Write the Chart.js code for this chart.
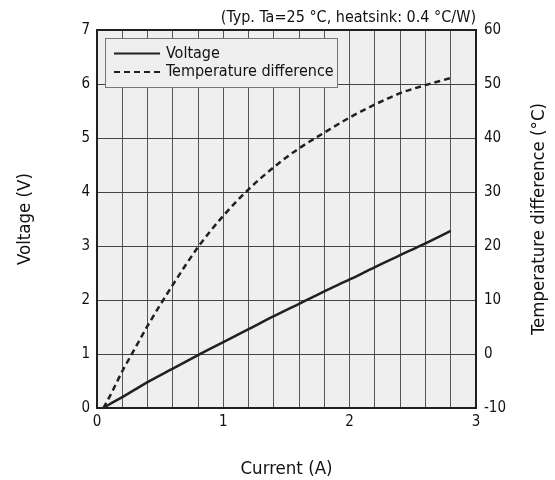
<!DOCTYPE html>
<html lang="en">
<head>
  <meta charset="UTF-8">
  <title>Voltage and temperature difference vs current</title>
  <script src="https://cdn.jsdelivr.net/npm/chart.js"></script>
  <style>
    html, body {
      margin: 0;
      padding: 0;
      background: #fff;
    }
    #wrap {
      width: 555px;
      height: 480px;
    }
  </style>
</head>
<body>
  <div id="wrap"><canvas id="chart" width="555" height="480"></canvas></div>

  <script>
    // data
    const current = [0.05, 0.1, 0.2, 0.3, 0.4, 0.6, 0.8, 1.0, 1.2, 1.4, 1.6, 1.8, 2.0, 2.2, 2.4, 2.6, 2.8];
    const voltage = [0, 0.07, 0.2, 0.34, 0.48, 0.73, 0.98, 1.22, 1.46, 1.70, 1.93, 2.16, 2.38, 2.61, 2.83, 3.05, 3.28];
    const tempDiff = [-10, -7.9, -3.2, 1.0, 5.2, 12.8, 19.8, 25.6, 30.5, 34.6, 38.1, 41.0, 43.8, 46.2, 48.3, 49.8, 51.1];

    const titleText = '(Typ. Ta=25 °C, heatsink: 0.4 °C/W)';
    const xTitle = 'Current (A)';
    const yTitle = 'Voltage (V)';
    const y2Title = 'Temperature difference (°C)';

    const FONT = "'DejaVu Sans Condensed', 'DejaVu Sans', sans-serif";
    const INK = '#231f20';

    // plot background, frame, note, right title and legend
    const decor = {
      id: 'decor',
      beforeDraw(chart) {
        const { ctx, chartArea: a } = chart;
        ctx.save();
        ctx.fillStyle = '#efefef';
        ctx.fillRect(a.left, a.top, a.right - a.left, a.bottom - a.top);
        ctx.restore();
      },
      afterDatasetsDraw(chart) {
        const { ctx, chartArea: a } = chart;
        ctx.save();
        ctx.strokeStyle = INK;
        ctx.lineWidth = 2;
        ctx.strokeRect(a.left, a.top, a.right - a.left, a.bottom - a.top);

        ctx.fillStyle = '#111';
        ctx.font = '16px ' + FONT;
        ctx.textAlign = 'right';
        ctx.textBaseline = 'middle';
        ctx.fillText(titleText, a.right, 18);

        // right axis title reads bottom to top, like the left one
        ctx.save();
        ctx.translate(539, (a.top + a.bottom) / 2);
        ctx.rotate(-Math.PI / 2);
        ctx.textAlign = 'center';
        ctx.font = '18.5px ' + FONT;
        ctx.fillText(y2Title, 0, 0);
        ctx.restore();

        // legend box
        const bx = a.left + 8, by = a.top + 8;
        ctx.fillStyle = '#efefef';
        ctx.fillRect(bx, by, 232, 49);
        ctx.strokeStyle = '#777';
        ctx.lineWidth = 1;
        ctx.strokeRect(bx + 0.5, by + 0.5, 232, 49);
        ctx.font = '16px ' + FONT;
        chart.data.datasets.forEach((ds, i) => {
          const yy = by + 15.5 + i * 18.5;
          ctx.strokeStyle = ds.borderColor;
          ctx.lineWidth = 2;
          ctx.setLineDash(ds.borderDash || []);
          ctx.beginPath();
          ctx.moveTo(bx + 9, yy);
          ctx.lineTo(bx + 55, yy);
          ctx.stroke();
          ctx.setLineDash([]);
          ctx.fillStyle = '#111';
          ctx.textAlign = 'left';
          ctx.fillText(ds.label, bx + 61, yy);
        });
        ctx.restore();
      }
    };

    new Chart(document.getElementById('chart'), {
      type: 'line',
      data: {
        datasets: [
          {
            label: 'Voltage',
            data: current.map((x, i) => ({ x, y: voltage[i] })),
            yAxisID: 'y',
            borderColor: INK,
            borderWidth: 2.5,
            pointRadius: 0,
            cubicInterpolationMode: 'monotone'
          },
          {
            label: 'Temperature difference',
            data: current.map((x, i) => ({ x, y: tempDiff[i] })),
            yAxisID: 'y2',
            borderColor: INK,
            borderWidth: 2.5,
            borderDash: [6, 4],
            pointRadius: 0,
            cubicInterpolationMode: 'monotone'
          }
        ]
      },
      options: {
        responsive: false,
        animation: false,
        layout: { padding: { top: 30, left: 0, right: 0, bottom: 0 } },
        plugins: {
          legend: { display: false },
          title: { display: false },
          tooltip: { enabled: false }
        },
        scales: {
          x: {
            type: 'linear',
            min: 0,
            max: 3,
            afterFit: s => { s.height = 72; },
            ticks: {
              stepSize: 0.2,
              padding: 5,
              maxRotation: 0,
              autoSkip: false,
              color: '#111',
              font: { family: FONT, size: 15 },
              callback: v => Math.abs(v - Math.round(v)) < 1e-6 ? String(Math.round(v)) : ''
            },
            grid: { color: '#555', lineWidth: 1, drawTicks: false },
            border: { display: false },
            title: {
              display: true,
              text: xTitle,
              color: '#111',
              font: { family: FONT, size: 18.5 },
              padding: { top: 0, bottom: 0 }
            }
          },
          y: {
            position: 'left',
            min: 0,
            max: 7,
            afterFit: s => { s.width = 97; },
            ticks: {
              stepSize: 1,
              padding: 7,
              color: '#111',
              font: { family: FONT, size: 15 }
            },
            grid: { color: '#444', lineWidth: 1, drawTicks: false },
            border: { display: false },
            title: {
              display: true,
              text: yTitle,
              color: '#111',
              font: { family: FONT, size: 18.5 },
              padding: { top: 14, bottom: 0 }
            }
          },
          y2: {
            position: 'right',
            min: -10,
            max: 60,
            afterFit: s => { s.width = 79; },
            ticks: {
              stepSize: 10,
              padding: 8,
              color: '#111',
              font: { family: FONT, size: 15 }
            },
            grid: { display: false, drawTicks: false },
            border: { display: false },
            title: { display: false }
          }
        }
      },
      plugins: [decor]
    });
  </script>
</body>
</html>
